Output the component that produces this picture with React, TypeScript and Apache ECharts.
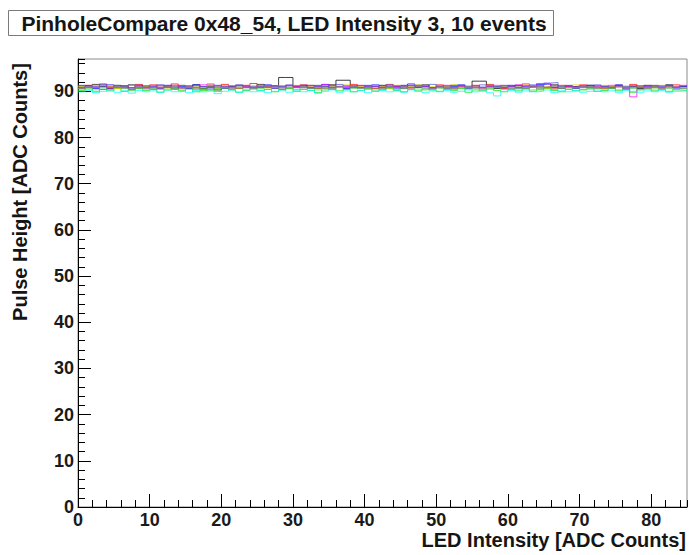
import React, { useEffect, useRef } from "react";
import * as echarts from "echarts";

const titleText = "PinholeCompare 0x48_54, LED Intensity 3, 10 events";
const xTitle = "LED Intensity [ADC Counts]";
const yTitle = "Pulse Height [ADC Counts]";

const xMin = 0;
const xMax = 85;
const yMin = 0;
const yMax = 97;

const seriesColors = [
  "#000000", "#ff0000", "#00e000", "#0000ff", "#d8d800",
  "#ff00ff", "#00ffff", "#59d454", "#5954d8", "#808080",
];

const ev0 = [
  91.2, 90.8, 91.5, 91.0, 90.6, 91.3, 90.9, 91.4, 90.7, 91.1,
  90.8, 91.3, 91.0, 90.5, 91.2, 90.9, 91.4, 90.6, 91.0, 90.3,
  90.9, 91.2, 90.7, 91.1, 90.8, 91.5, 90.9, 91.2, 93.0, 93.0,
  91.1, 90.8, 91.3, 90.6, 91.0, 91.4, 92.4, 92.4, 90.9, 91.2,
  90.7, 91.0, 91.3, 90.8, 91.1, 90.6, 91.2, 90.9, 91.4, 90.8,
  91.0, 90.7, 91.3, 91.1, 90.8, 92.2, 92.2, 91.0, 90.6, 91.2,
  90.9, 91.3, 90.7, 91.0, 91.2, 90.8, 91.4, 90.6, 91.0, 91.1,
  90.8, 91.3, 90.9, 91.0, 90.7, 91.2, 90.9, 91.1, 90.6, 91.3,
  91.0, 90.8, 91.4, 90.9, 91.1,
];
const ev1 = [
  90.6, 91.3, 90.9, 91.6, 91.0, 90.7, 91.2, 90.8, 91.5, 90.9,
  91.4, 90.7, 91.1, 91.6, 90.8, 91.2, 90.5, 91.0, 91.3, 90.7,
  91.5, 91.0, 90.6, 91.3, 91.7, 90.9, 91.1, 90.8, 91.2, 90.6,
  91.0, 91.4, 90.9, 91.2, 90.7, 91.3, 91.0, 90.8, 91.5, 90.9,
  91.2, 90.6, 91.0, 91.5, 90.9, 91.1, 90.7, 91.3, 91.0, 90.8,
  91.4, 91.0, 90.7, 91.2, 90.9, 91.3, 90.8, 91.5, 91.0, 90.6,
  91.1, 90.8, 91.6, 91.2, 90.9, 91.0, 90.7, 91.3, 91.1, 90.8,
  91.4, 90.9, 91.2, 90.6, 91.0, 91.3, 90.8, 91.5, 91.0, 90.9,
  91.2, 90.7, 91.1, 91.4, 90.9,
];
const ev2 = [
  90.2, 90.5, 89.9, 90.4, 90.1, 90.6, 90.0, 90.3, 90.7, 90.2,
  90.4, 89.8, 90.3, 90.6, 90.1, 90.5, 89.9, 90.2, 90.4, 90.0,
  90.6, 90.3, 89.8, 90.2, 90.5, 90.1, 90.4, 89.9, 90.3, 90.6,
  90.0, 90.4, 90.2, 89.7, 90.3, 90.5, 90.1, 90.4, 89.9, 90.2,
  90.5, 90.0, 90.3, 90.6, 90.2, 89.9, 90.4, 90.1, 90.5, 90.3,
  90.0, 90.4, 90.2, 90.6, 89.8, 90.3, 90.1, 90.5, 90.2, 89.9,
  90.4, 90.1, 90.5, 90.0, 90.3, 90.6, 90.2, 89.9, 90.4, 90.1,
  90.3, 90.5, 90.0, 90.2, 90.6, 90.1, 90.4, 89.8, 90.3, 90.5,
  90.1, 90.4, 90.0, 90.3, 90.2,
];
const ev3 = [
  90.9, 91.2, 90.6, 91.0, 91.4, 90.8, 91.1, 90.5, 91.3, 90.9,
  91.0, 90.7, 91.3, 90.9, 91.1, 90.6, 91.4, 91.0, 90.8, 91.2,
  90.7, 91.0, 91.3, 90.8, 91.1, 90.9, 91.4, 90.6, 91.0, 91.2,
  90.8, 91.3, 90.7, 91.1, 91.5, 90.9, 91.0, 90.6, 91.2, 90.8,
  91.1, 91.4, 90.8, 91.0, 90.7, 91.3, 91.6, 90.9, 91.1, 90.7,
  91.2, 90.8, 91.0, 91.4, 90.6, 91.1, 90.9, 91.3, 91.0, 90.8,
  91.3, 90.7, 91.1, 90.9, 91.5, 91.6, 90.8, 91.0, 91.2, 90.6,
  91.0, 91.3, 90.8, 91.1, 90.9, 91.4, 90.7, 91.0, 91.2, 90.8,
  91.1, 90.9, 91.3, 90.7, 91.0,
];
const ev4 = [
  91.1, 90.8, 91.3, 90.9, 91.2, 90.6, 91.0, 91.4, 90.8, 91.1,
  90.9, 91.2, 90.7, 91.0, 91.3, 90.8, 91.1, 90.9, 91.4, 90.7,
  91.0, 91.2, 90.8, 91.1, 90.9, 91.3, 90.7, 91.0, 91.2, 90.8,
  91.3, 90.9, 91.1, 90.7, 91.2, 91.0, 90.8, 91.4, 90.9, 91.1,
  90.8, 91.2, 91.0, 90.7, 91.3, 90.9, 91.1, 91.4, 90.8, 91.0,
  91.2, 90.9, 91.4, 91.0, 90.8, 91.1, 90.7, 91.3, 90.9, 91.2,
  90.8, 91.0, 91.3, 90.9, 91.1, 90.7, 91.2, 91.0, 90.8, 91.4,
  90.9, 91.1, 90.7, 91.3, 91.0, 90.8, 91.2, 90.9, 91.1, 90.7,
  91.0, 91.3, 90.9, 91.1, 90.8,
];
const ev5 = [
  90.8, 91.1, 90.9, 91.3, 90.7, 91.0, 91.2, 90.8, 91.1, 90.6,
  91.2, 90.9, 91.0, 91.3, 90.7, 91.1, 90.8, 91.4, 91.6, 90.9,
  91.1, 90.7, 91.3, 91.0, 90.8, 91.2, 90.9, 91.1, 90.7, 91.3,
  91.0, 90.8, 91.2, 90.9, 91.4, 90.7, 91.1, 91.0, 90.8, 91.3,
  90.9, 91.1, 90.7, 91.2, 91.0, 90.8, 91.3, 90.9, 91.1, 90.6,
  91.0, 91.3, 90.8, 91.1, 90.9, 91.2, 90.7, 91.0, 91.3, 90.8,
  91.1, 91.4, 90.9, 91.0, 91.7, 91.6, 91.2, 90.8, 91.0, 90.9,
  91.2, 90.8, 91.1, 90.9, 91.3, 91.0, 90.7, 88.8, 90.9, 91.1,
  90.8, 91.2, 90.9, 91.0, 91.3,
];
const ev6 = [
  89.9, 90.2, 89.7, 90.0, 90.3, 89.8, 90.1, 89.6, 90.2, 89.9,
  90.1, 89.8, 90.3, 89.9, 90.0, 89.7, 90.2, 89.9, 90.1, 89.5,
  90.0, 90.3, 89.8, 90.1, 89.9, 90.2, 89.7, 90.0, 90.3, 89.8,
  90.1, 89.9, 90.2, 89.6, 90.0, 90.3, 89.8, 90.1, 89.9, 90.2,
  89.7, 90.0, 90.2, 89.9, 90.1, 89.8, 90.3, 90.0, 89.7, 90.1,
  89.9, 90.2, 89.8, 90.0, 90.3, 89.9, 90.1, 89.7, 89.0, 90.0,
  90.2, 89.8, 90.1, 89.9, 90.0, 90.3, 89.7, 90.1, 89.9, 90.2,
  89.8, 90.0, 90.3, 89.9, 90.1, 89.7, 90.2, 90.0, 89.8, 90.1,
  89.9, 90.2, 89.8, 90.0, 90.1,
];
const ev7 = [
  90.5, 90.8, 90.3, 90.7, 90.4, 90.9, 90.6, 90.2, 90.8, 90.5,
  90.7, 90.4, 90.9, 90.6, 90.3, 90.8, 90.5, 90.7, 90.1, 90.6,
  90.9, 90.5, 90.7, 90.3, 90.8, 90.6, 90.4, 90.9, 90.5, 90.7,
  90.4, 90.8, 90.6, 90.3, 90.7, 90.5, 90.9, 90.4, 90.6, 90.8,
  90.5, 90.3, 90.7, 90.9, 90.4, 90.6, 90.8, 90.5, 90.3, 90.7,
  90.6, 90.9, 90.4, 90.7, 90.5, 90.8, 90.3, 90.6, 90.9, 90.4,
  90.7, 90.5, 90.8, 90.3, 90.6, 90.9, 90.4, 90.7, 90.5, 90.8,
  90.4, 90.6, 90.9, 90.5, 90.7, 90.3, 90.8, 90.6, 90.4, 90.7,
  90.5, 90.8, 90.6, 90.4, 90.7,
];
const ev8 = [
  91.3, 90.9, 91.1, 91.5, 90.8, 91.2, 91.0, 91.4, 90.9, 91.2,
  91.0, 91.4, 90.8, 91.1, 91.3, 90.9, 91.2, 91.0, 90.7, 91.3,
  91.1, 90.9, 91.4, 91.2, 90.8, 91.0, 91.3, 91.1, 90.9, 91.4,
  91.2, 91.0, 90.8, 91.3, 91.1, 90.9, 91.5, 91.2, 91.0, 90.8,
  91.3, 91.1, 90.9, 91.4, 91.2, 91.0, 90.8, 91.3, 91.1, 91.5,
  90.9, 91.2, 91.0, 91.3, 91.1, 90.8, 91.4, 91.2, 91.0, 91.3,
  91.1, 90.9, 91.2, 91.4, 91.0, 91.8, 91.9, 91.1, 91.3, 90.9,
  91.2, 91.0, 91.4, 91.1, 90.9, 91.3, 91.0, 91.2, 90.8, 91.1,
  91.3, 91.0, 91.2, 90.9, 91.1,
];
const ev9 = [
  90.6, 91.0, 90.8, 90.4, 90.9, 91.1, 90.7, 90.5, 91.0, 90.8,
  90.5, 90.9, 91.1, 90.7, 90.6, 91.0, 90.8, 90.4, 90.9, 91.1,
  90.7, 90.5, 91.0, 90.8, 90.6, 90.9, 91.1, 90.7, 90.4, 90.9,
  90.8, 91.0, 90.6, 90.9, 90.7, 90.5, 91.0, 90.8, 91.1, 90.6,
  90.9, 90.7, 90.5, 91.0, 90.8, 90.6, 90.9, 91.1, 90.7, 90.5,
  91.0, 90.8, 90.6, 90.9, 91.1, 90.7, 90.5, 90.9, 90.8, 91.0,
  90.6, 90.9, 90.7, 91.1, 90.5, 90.8, 91.0, 90.6, 90.9, 90.7,
  91.1, 90.8, 90.6, 90.9, 90.7, 91.0, 90.5, 90.8, 91.0, 90.6,
  90.9, 90.7, 91.1, 90.8, 90.6,
];

const events = [ev0, ev1, ev2, ev3, ev4, ev5, ev6, ev7, ev8, ev9];

const FONT = "'Liberation Sans', Arial, Helvetica, sans-serif";

const GRID = { left: 78, top: 59, right: 3, bottom: 48 };

function histPoints(vals: number[]): number[][] {
  const pts = vals.map((v, i) => [xMin + i, v]);
  pts.push([xMin + vals.length, vals[vals.length - 1]]);
  return pts;
}

export default function App() {
  const ref = useRef<HTMLDivElement>(null);
  useEffect(() => {
    if (!ref.current) return;
    const chart = echarts.init(ref.current, undefined, { renderer: "svg" });
    const labelStyle = {
      fontSize: 18,
      fontWeight: "bold" as const,
      color: "#1a1a1a",
      fontFamily: FONT,
    };
    chart.setOption({
      animation: false,
      backgroundColor: "#ffffff",
      grid: [
        { ...GRID, show: true, borderColor: "#8a8a8a", borderWidth: 1, backgroundColor: "transparent" },
        { ...GRID, show: false },
      ],
      xAxis: [
        {
          type: "value",
          gridIndex: 0,
          min: xMin,
          max: xMax,
          interval: 10,
          axisLine: { show: true, onZero: false, lineStyle: { color: "#000", width: 1 } },
          axisTick: { show: true, inside: true, length: 13, lineStyle: { color: "#000", width: 1 } },
          axisLabel: { ...labelStyle, margin: 4, showMaxLabel: false },
          splitLine: { show: false },
        },
        {
          type: "value",
          gridIndex: 1,
          min: xMin,
          max: xMax,
          interval: 2,
          axisLine: { show: false },
          axisTick: { show: true, inside: true, length: 7, lineStyle: { color: "#000", width: 1 } },
          axisLabel: { show: false },
          splitLine: { show: false },
        },
      ],
      yAxis: [
        {
          type: "value",
          gridIndex: 0,
          min: yMin,
          max: yMax,
          interval: 10,
          axisLine: { show: true, onZero: false, lineStyle: { color: "#000", width: 1 } },
          axisTick: { show: true, inside: true, length: 13, lineStyle: { color: "#000", width: 1 } },
          axisLabel: { ...labelStyle, margin: 4, showMaxLabel: false },
          splitLine: { show: false },
        },
        {
          type: "value",
          gridIndex: 1,
          min: yMin,
          max: yMax,
          interval: 2,
          axisLine: { show: false },
          axisTick: { show: true, inside: true, length: 7, lineStyle: { color: "#000", width: 1 } },
          axisLabel: { show: false },
          splitLine: { show: false },
        },
      ],
      series: events.map((vals, k) => ({
        type: "line",
        name: "event " + k,
        xAxisIndex: 0,
        yAxisIndex: 0,
        step: "end",
        showSymbol: false,
        symbol: "none",
        data: histPoints(vals),
        lineStyle: { color: seriesColors[k], width: 1, opacity: 0.75 },
        z: 2 + k,
      })),
      graphic: [
        {
          type: "rect",
          shape: { x: 8.5, y: 10.5, width: 545, height: 25 },
          style: { fill: "#ffffff", stroke: "#7a7a7a", lineWidth: 1 },
          z: 10,
        },
        {
          type: "text",
          x: 284,
          y: 23,
          style: {
            text: titleText,
            align: "center",
            verticalAlign: "middle",
            font: "bold 21px " + FONT,
            fill: "#151515",
          },
          z: 11,
        },
        {
          type: "text",
          x: 20,
          y: 192,
          rotation: Math.PI / 2,
          style: {
            text: yTitle,
            align: "center",
            verticalAlign: "middle",
            font: "bold 20px " + FONT,
            fill: "#151515",
          },
          z: 11,
        },
        {
          type: "text",
          x: 686,
          y: 540,
          style: {
            text: xTitle,
            align: "right",
            verticalAlign: "middle",
            font: "bold 20px " + FONT,
            fill: "#151515",
          },
          z: 11,
        },
      ],
    });
    return () => chart.dispose();
  }, []);
  return (
    <div
      ref={ref}
      style={{ position: "absolute", left: 0, top: 0, width: 690, height: 555 }}
    />
  );
}
